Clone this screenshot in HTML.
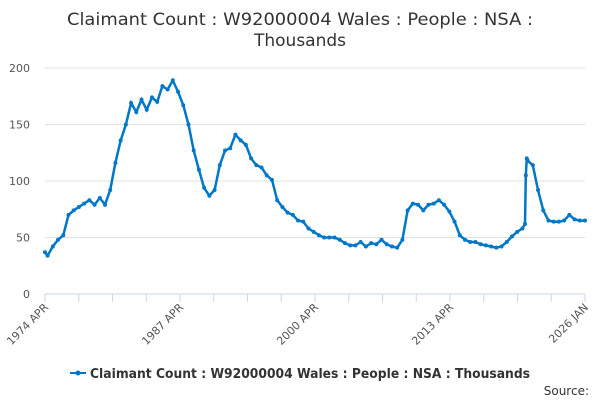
<!DOCTYPE html>
<html><head><meta charset="utf-8"><style>
body{margin:0;background:#fff;font-family:"DejaVu Sans","Liberation Sans",sans-serif;}
</style></head><body>
<svg width="600" height="400" xmlns="http://www.w3.org/2000/svg" font-family="DejaVu Sans, Liberation Sans, sans-serif">
<text x="300" y="25" text-anchor="middle" font-size="17" fill="#333" textLength="466" lengthAdjust="spacingAndGlyphs">Claimant Count : W92000004 Wales : People : NSA :</text>
<text x="300" y="46" text-anchor="middle" font-size="17" fill="#333">Thousands</text>
<g id="grid"></g><g id="axes"></g><g id="series"></g>
<g>
<line x1="70" y1="373" x2="86" y2="373" stroke="#0077c8" stroke-width="2"/><circle cx="78" cy="373" r="2.5" fill="#0077c8"/>
<text x="90" y="378" font-size="13" font-weight="bold" fill="#333" textLength="440" lengthAdjust="spacingAndGlyphs">Claimant Count : W92000004 Wales : People : NSA : Thousands</text></g>
<text x="589" y="395" text-anchor="end" font-size="12" fill="#333">Source:</text>
</svg>
<script>
const years=[1974.25,1974.5,1975,1975.5,1976,1976.5,1977,1977.5,1978,1978.5,1979,1979.5,1980,1980.5,1981,1981.5,1982,1982.5,1983,1983.5,1984,1984.5,1985,1985.5,1986,1986.5,1987,1987.5,1988,1988.5,1989,1989.5,1990,1990.5,1991,1991.5,1992,1992.5,1993,1993.5,1994,1994.5,1995,1995.5,1996,1996.5,1997,1997.5,1998,1998.5,1999,1999.5,2000,2000.5,2001,2001.5,2002,2002.5,2003,2003.5,2004,2004.5,2005,2005.5,2006,2006.5,2007,2007.5,2008,2008.5,2009,2009.5,2010,2010.5,2011,2011.5,2012,2012.5,2013,2013.5,2014,2014.5,2015,2015.5,2016,2016.5,2017,2017.5,2018,2018.5,2019,2019.5,2020,2020.25,2020.33,2020.42,2020.5,2021,2021.5,2022,2022.5,2023,2023.5,2024,2024.5,2025,2025.5,2026];
const values=[37,34,42,48,52,70,74,77,80,83,79,85,79,92,116,136,150,169,161,172,163,174,170,184,181,189,179,167,150,127,110,94,87,92,114,127,129,141,136,132,120,114,112,105,101,83,77,72,70,65,64,58,55,52,50,50,50,48,45,43,43,46,42,45,44,48,44,42,41,48,74,80,79,74,79,80,83,79,73,64,52,48,46,46,44,43,42,41,42,46,51,55,58,62,105,120,118,114,92,74,65,64,64,65,70,66,65,65];
const yTicks=[0,50,100,150,200];
const xLabels=["1974 APR","1987 APR","2000 APR","2013 APR","2026 JAN"];
const NS="http://www.w3.org/2000/svg";
const x0=45,x1=585,y0=294,y1=68;
const xs=y=>x0+(y-1974.25)/(2026-1974.25)*(x1-x0);
const ys=v=>y0-v/200*(y0-y1);
function mk(t,a,p){const e=document.createElementNS(NS,t);for(const k in a)e.setAttribute(k,a[k]);p.appendChild(e);return e;}
const g=document.getElementById('grid'),ax=document.getElementById('axes'),s=document.getElementById('series');
yTicks.forEach(v=>{
 const l=mk('line',{x1:x0,x2:x1,y1:ys(v),y2:ys(v),stroke:v?'#e0e0e0':'#ccd6eb','stroke-width':1},g);
 
 
 const t=mk('text',{x:x0-15,y:ys(v)+4,'text-anchor':'end','font-size':11,fill:'#555'},ax);
 t.textContent=v;
 
 
});
for(let i=0;i<=16;i++){
 const xx=x0+i*(x1-x0)/16;
 const l=mk('line',{x1:xx,x2:xx,y1:y0,y2:y0+8,stroke:'#ccd6eb'},ax);
 
 
}
xLabels.forEach((lab,i)=>{
 const xx=x0+i*(x1-x0)/4;
 const t=mk('text',{x:xx+4,y:y0+14,'text-anchor':'end','font-size':11,fill:'#555',transform:`rotate(-45 ${xx+4} ${y0+14})`},ax);
 t.textContent=lab;
 
 
});
const d=years.map((y,i)=>(i?'L':'M')+xs(y).toFixed(1)+' '+ys(values[i]).toFixed(1)).join(' ');
const p=mk('path',{d:d,fill:'none',stroke:'#0077c8','stroke-width':2.5},s);


years.forEach((y,i)=>{
 const c=mk('circle',{cx:xs(y),cy:ys(values[i]),r:2,fill:'#0077c8'},s);
 
 
});
</script>
</body></html>
